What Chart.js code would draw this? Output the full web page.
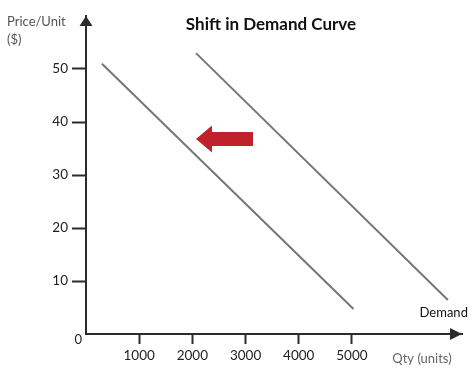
<!DOCTYPE html>
<html>
<head>
<meta charset="utf-8">
<script src="https://cdn.jsdelivr.net/npm/chart.js@4"></script>
<style>
  html, body { margin: 0; padding: 0; background: #fff; }
  canvas { display: block; }
</style>
</head>
<body>
<canvas id="c" width="474" height="386"></canvas>
<script>
// Shift in demand: two parallel straight demand lines, the shifted one to the left.
const chartTitle = "Shift in Demand Curve";
const yTitleLines = ["Price/Unit", "($)"];
const xTitle = "Qty (units)";
const curveLabel = "Demand";

const xTicks = [1000, 2000, 3000, 4000, 5000];
const yTicks = [10, 20, 30, 40, 50];

// original demand curve (right) and shifted one (left), as [qty, price] end points
const demandOriginalQty = [2068, 6805];
const demandOriginalPrice = [53.0, 6.4];
const demandShiftedQty = [300, 5030];
const demandShiftedPrice = [51.0, 4.7];

// shift arrow, in data units: from -> to
const shiftArrowQty = [3140, 2068];
const shiftArrowPrice = [36.8, 36.8];

const xMax = 7070;
const yMax = 60;

const ink = "#2b2b2b";
const lineGrey = "#767676";
const arrowRed = "#c0222d";
const font = "Lato, 'Open Sans', sans-serif";

const toPoints = (xs, ys) => xs.map((x, i) => ({ x, y: ys[i] }));

const extras = {
  id: "extras",
  afterDraw(chart) {
    const { ctx, chartArea, scales } = chart;
    const { x, y } = scales;
    ctx.save();

    // axis arrowheads
    ctx.fillStyle = ink;
    ctx.beginPath();
    ctx.moveTo(chartArea.left, chartArea.top);
    ctx.lineTo(chartArea.left - 6.5, chartArea.top + 10);
    ctx.lineTo(chartArea.left + 6.5, chartArea.top + 10);
    ctx.closePath();
    ctx.fill();
    ctx.beginPath();
    ctx.moveTo(chartArea.right, chartArea.bottom);
    ctx.lineTo(chartArea.right - 12, chartArea.bottom - 6);
    ctx.lineTo(chartArea.right - 12, chartArea.bottom + 6);
    ctx.closePath();
    ctx.fill();

    // shift arrow
    const x0 = x.getPixelForValue(shiftArrowQty[0]);
    const x1 = x.getPixelForValue(shiftArrowQty[1]);
    const ay = y.getPixelForValue(shiftArrowPrice[0]);
    const headLen = 16, bodyH = 7, headH = 13.5;
    ctx.fillStyle = arrowRed;
    ctx.beginPath();
    ctx.moveTo(x1, ay);
    ctx.lineTo(x1 + headLen, ay - headH);
    ctx.lineTo(x1 + headLen, ay - bodyH);
    ctx.lineTo(x0, ay - bodyH);
    ctx.lineTo(x0, ay + bodyH);
    ctx.lineTo(x1 + headLen, ay + bodyH);
    ctx.lineTo(x1 + headLen, ay + headH);
    ctx.closePath();
    ctx.fill();

    // texts
    ctx.textBaseline = "middle";
    ctx.fillStyle = "#111";
    ctx.font = `bold 17px ${font}`;
    ctx.textAlign = "center";
    ctx.fillText(chartTitle, 271, 25);

    ctx.font = `13px ${font}`;
    ctx.fillStyle = "#555";
    ctx.textAlign = "left";
    ctx.fillText(yTitleLines[0], 7, 22);
    ctx.fillText(yTitleLines[1], 7, 40);

    ctx.fillStyle = "#666";
    ctx.textAlign = "center";
    ctx.fillText(xTitle, 422, 359);

    ctx.fillStyle = "#111";
    ctx.textAlign = "right";
    const ex = x.getPixelForValue(demandOriginalQty[1]);
    const ey = y.getPixelForValue(demandOriginalPrice[1]);
    ctx.fillText(curveLabel, ex + 20, ey + 13);

    ctx.fillStyle = "#222";
    ctx.fillText("0", chartArea.left - 4, chartArea.bottom + 6);
    ctx.restore();
  },
};

new Chart(document.getElementById("c"), {
  type: "scatter",
  data: {
    datasets: [
      {
        data: toPoints(demandOriginalQty, demandOriginalPrice),
        showLine: true,
        borderColor: lineGrey,
        borderWidth: 2,
        pointRadius: 0,
      },
      {
        data: toPoints(demandShiftedQty, demandShiftedPrice),
        showLine: true,
        borderColor: lineGrey,
        borderWidth: 2,
        pointRadius: 0,
      },
    ],
  },
  options: {
    responsive: false,
    animation: false,
    layout: { padding: { top: 16, right: 12, left: 0, bottom: 0 } },
    plugins: { legend: { display: false }, tooltip: { enabled: false } },
    scales: {
      x: {
        type: "linear",
        min: 0,
        max: xMax,
        afterFit: (s) => { s.height = 52; },
        afterBuildTicks: (s) => { s.ticks = xTicks.map((v) => ({ value: v })); },
        grid: { drawOnChartArea: false, drawTicks: true, tickLength: 10, tickColor: ink, tickWidth: 2 },
        border: { display: true, color: ink, width: 2 },
        ticks: { color: "#222", padding: 4, font: { family: font, size: 13.5 }, maxRotation: 0, callback: (v) => String(v) },
      },
      y: {
        type: "linear",
        min: 0,
        max: yMax,
        afterFit: (s) => { s.width = 86; },
        afterBuildTicks: (s) => { s.ticks = yTicks.map((v) => ({ value: v })); },
        grid: { drawOnChartArea: false, drawTicks: true, tickLength: 14, tickColor: ink, tickWidth: 2 },
        border: { display: true, color: ink, width: 2 },
        ticks: { color: "#222", padding: 4, font: { family: font, size: 13.5 }, callback: (v) => String(v) },
      },
    },
  },
  plugins: [extras],
});
</script>
</body>
</html>
